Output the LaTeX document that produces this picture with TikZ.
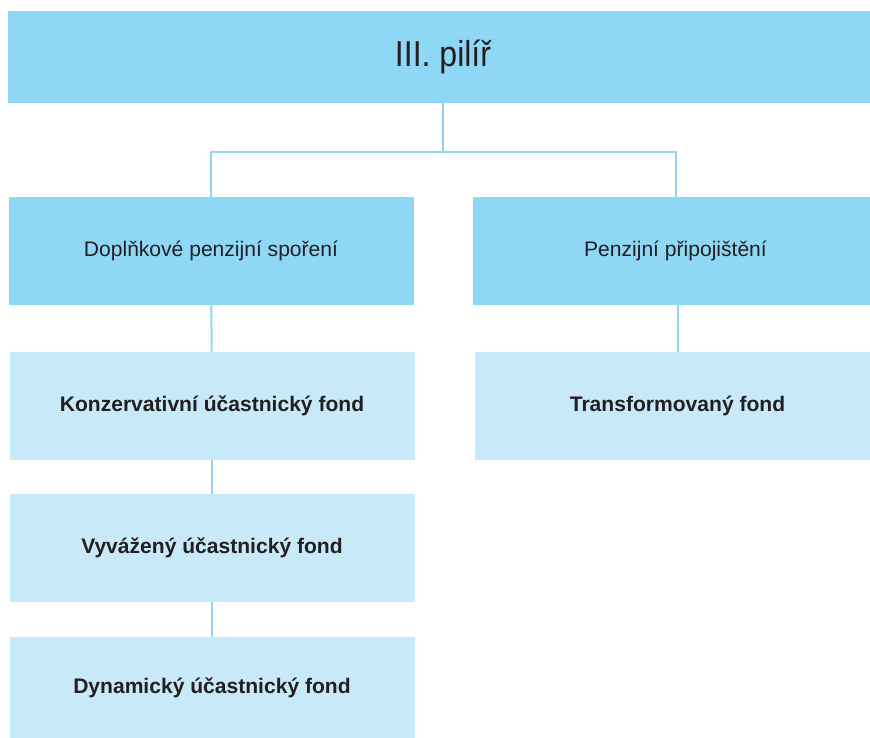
\documentclass[tikz,border=0pt]{standalone}
\usepackage{fontspec}
\setmainfont{Liberation Sans}
\newfontfamily\titlefont[FakeStretch=0.89]{Liberation Sans}
\definecolor{pilirdark}{HTML}{8ED8F6}
\definecolor{pilirlight}{HTML}{C7E9F8}
\definecolor{pilirtext}{HTML}{231F20}

\tikzset{
  darkbox/.style={fill=pilirdark, inner sep=0pt, text=pilirtext, font=\fontsize{15.8}{19}\selectfont},
  lightbox/.style={fill=pilirlight, inner sep=0pt, text=pilirtext, font=\bfseries\fontsize{15.8}{19}\selectfont},
  link/.style={draw=pilirdark, line width=1.5pt}
}

\begin{document}
\begin{tikzpicture}[x=0.75pt, y=-0.75pt]
    \useasboundingbox (0,0) rectangle (870,738);

    % top level
    \node[darkbox, minimum width=652.5pt, minimum height=69pt, font=\titlefont\fontsize{27}{30}\selectfont] (pilir) at (443,57) {III. pilíř};

    % second level
    \node[darkbox, minimum width=303.75pt, minimum height=81pt] (dps) at (211,251) {Doplňkové penzijní spoření};
    \node[darkbox, minimum width=303.75pt, minimum height=81pt] (pp) at (675.5,251) {Penzijní připojištění};

    % funds
    \node[lightbox, minimum width=303.75pt, minimum height=81pt] (kuf) at (212,406) {Konzervativní účastnický fond};
    \node[lightbox, minimum width=303.75pt, minimum height=81pt] (vuf) at (212,548) {Vyvážený účastnický fond};
    \node[lightbox, minimum width=303.75pt, minimum height=75.75pt] (duf) at (212,687.5) {Dynamický účastnický fond};
    \node[lightbox, minimum width=303.75pt, minimum height=81pt] (tf) at (677.5,406) {Transformovaný fond};

    \coordinate (fork) at (443,152);
    \draw[link] (pilir.south) -- (fork);
    \draw[link] (dps.north) |- (fork) -| (pp.north);
    \draw[link] (dps) -- (kuf);
    \draw[link] (kuf) -- (vuf);
    \draw[link] (vuf) -- (duf);
    \draw[link] (tf.north) -- (tf.north |- pp.south);
\end{tikzpicture}
\end{document}
